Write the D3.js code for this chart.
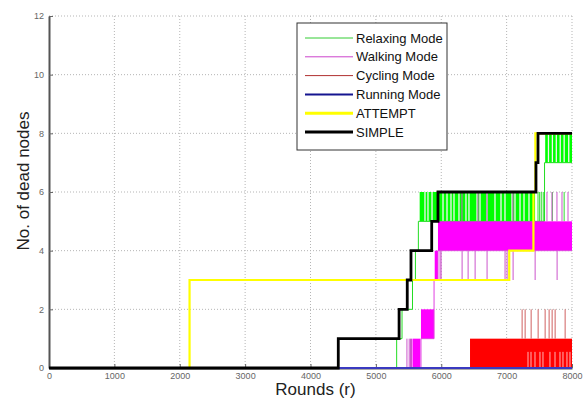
<!DOCTYPE html>
<html>
<head>
<meta charset="utf-8">
<script src="https://cdn.jsdelivr.net/npm/d3@7"></script>
<style>
  body { margin: 0; background: #fff; }
  svg { display: block; font-family: "Liberation Sans", Arial, sans-serif; }
</style>
</head>
<body>
<svg id="chart" width="587" height="399"></svg>
<script>
// axis ticks
const xTicks = [0, 1000, 2000, 3000, 4000, 5000, 6000, 7000, 8000];
const yTicks = [0, 2, 4, 6, 8, 10, 12];

// legend labels, in plot order
const seriesNames = ['Relaxing Mode', 'Walking Mode', 'Cycling Mode', 'Running Mode', 'ATTEMPT', 'SIMPLE'];

// stairs: [round, dead nodes from that round on]
const relaxSteps = [[0, 0], [5318, 1], [5400, 2], [5560, 3], [5605, 4], [5650, 5], [7580, 7], [8000, 7]];
const walkSteps = [[0, 0], [5690, 1], [5890, 3], [5950, 4], [8000, 4]];
const cycleSteps = [[0, 0], [6440, 0], [8000, 0]];
const runSteps = [[0, 0], [8000, 0]];
const attemptSteps = [[0, 0], [2150, 3], [7040, 4], [7410, 6], [7440, 8], [8000, 8]];
const simpleSteps = [[0, 0], [4425, 1], [5355, 2], [5480, 3], [5537, 4], [5854, 5], [5950, 6], [7449, 7], [7480, 8], [8000, 8]];

// dense flicker: [from round, to round, low, high]
const relaxBands = [[5670, 7435, 5, 6], [7590, 8000, 7, 8]];
const walkBands = [[5560, 5680, 0, 1], [5690, 5890, 1, 2], [5900, 5950, 3, 4], [5950, 8000, 4, 5]];
const cycleBands = [[6440, 8000, 0, 1]];

// quiet rounds inside the bands (line stayed low)
const relaxGaps58 = [5751, 5797, 5859, 6027, 6088, 6149, 6195, 6271, 6378, 6424, 6547, 6593, 6700, 6822, 6914, 6975, 7082, 7128, 7205, 7266, 7342];
const relaxGaps78 = [7640, 7700, 7760, 7820, 7880, 7950];
const cycleGaps = [7327, 7373, 7434, 7510, 7556, 7663, 7740, 7816, 7862, 7923, 7969];

// single flicker rounds: [round, low, high]
const relaxSpikes = [[7480, 5, 6], [7505, 5, 6], [7530, 5, 6], [7560, 5, 6], [7700, 5, 6], [7880, 5, 6]];
const walkSpikes = [
  [5475, 0, 1], [5510, 0, 1], [5530, 0, 1], [5545, 0, 1],
  [5982, 3, 4], [5998, 3, 4], [6319, 3, 4], [6411, 3, 4], [6518, 3, 4], [6701, 3, 4],
  [6976, 3, 4], [7007, 3, 4], [7099, 3, 4], [7436, 3, 4], [7772, 3, 4],
  [6317, 5, 6], [6562, 5, 6], [6700, 5, 6], [7097, 5, 6], [7617, 5, 6], [7694, 5, 6],
  [7770, 5, 6], [7847, 5, 6], [7939, 5, 6]
];
const cycleSpikes = [[7237, 1, 2], [7283, 1, 2], [7375, 1, 2], [7482, 1, 2], [7589, 1, 2], [7650, 1, 2], [7696, 1, 2], [7742, 1, 2], [7895, 1, 2]];

const svg = d3.select('#chart');
const x = d3.scaleLinear().domain([0, 8000]).range([49, 572]);
const y = d3.scaleLinear().domain([0, 12]).range([368, 16]);

// grid
svg.append('g').selectAll('line')
  .data(xTicks.slice(1))
  .join('line')
  .attr('x1', d => x(d)).attr('x2', d => x(d))
  .attr('y1', y(0)).attr('y2', y(12))
  .attr('stroke', '#b5b5b5').attr('stroke-dasharray', '1,2');

svg.append('g').selectAll('line')
  .data(yTicks.slice(1))
  .join('line')
  .attr('x1', x(0)).attr('x2', x(8000))
  .attr('y1', d => y(d)).attr('y2', d => y(d))
  .attr('stroke', '#b5b5b5').attr('stroke-dasharray', '1,2');

// axes
const xAxis = svg.append('g')
  .attr('transform', `translate(0,${y(0)})`)
  .call(d3.axisBottom(x).tickValues(xTicks).tickFormat(d3.format('d'))
    .tickSizeInner(-4).tickSizeOuter(0).tickPadding(5));
const yAxis = svg.append('g')
  .attr('transform', `translate(${x(0)},0)`)
  .call(d3.axisLeft(y).tickValues(yTicks).tickFormat(d3.format('d'))
    .tickSizeInner(-4).tickSizeOuter(0).tickPadding(5));

[xAxis, yAxis].forEach(g => {
  g.select('.domain').attr('stroke', '#555').attr('stroke-width', 2);
  g.selectAll('.tick line').attr('stroke', '#666');
  g.selectAll('.tick text').attr('fill', '#666').attr('font-size', 9)
    .attr('font-family', '"Liberation Sans", Arial, sans-serif');
});

const stairs = d3.line()
  .x(d => x(d[0]))
  .y(d => y(d[1]))
  .curve(d3.curveStepAfter);

const plot = svg.append('g');

function drawBands(bands, color) {
  plot.append('g').selectAll('rect')
    .data(bands)
    .join('rect')
    .attr('x', d => x(d[0]))
    .attr('width', d => x(d[1]) - x(d[0]))
    .attr('y', d => y(d[3]))
    .attr('height', d => y(d[2]) - y(d[3]))
    .attr('fill', color);
}

function drawTicks(rounds, lo, hi, color, width) {
  plot.append('g').selectAll('line')
    .data(rounds)
    .join('line')
    .attr('x1', d => x(d)).attr('x2', d => x(d))
    .attr('y1', y(lo)).attr('y2', y(hi))
    .attr('stroke', color).attr('stroke-width', width);
}

function drawSpikes(spikes, color) {
  plot.append('g').selectAll('line')
    .data(spikes)
    .join('line')
    .attr('x1', d => x(d[0])).attr('x2', d => x(d[0]))
    .attr('y1', d => y(d[1])).attr('y2', d => y(d[2]))
    .attr('stroke', color).attr('stroke-width', 1);
}

function drawStairs(steps, color, width) {
  plot.append('path')
    .datum(steps)
    .attr('d', stairs)
    .attr('fill', 'none')
    .attr('stroke', color)
    .attr('stroke-width', width);
}

// Relaxing
drawBands(relaxBands, '#00ff00');
drawTicks(relaxGaps58, 5, 6, '#f4f4f4', 1.3);
drawTicks(relaxGaps78, 7, 8, '#f4f4f4', 1.3);
drawStairs(relaxSteps, '#22dd22', 1);
drawSpikes(relaxSpikes, '#33dd33');

// Walking
drawBands(walkBands, '#ff00ff');
drawStairs(walkSteps, '#e040e0', 1);
drawSpikes(walkSpikes, '#cc55cc');

// Cycling
drawBands(cycleBands, '#ff0000');
drawTicks(cycleGaps, 0, 0.55, '#ffb4b4', 1);
drawStairs(cycleSteps, '#ee2222', 1);
drawSpikes(cycleSpikes, '#d06060');

// Running
drawStairs(runSteps, '#3a3ac0', 2);

// ATTEMPT
drawStairs(attemptSteps, '#ffff00', 2.2);

// SIMPLE
drawStairs(simpleSteps, '#000', 2.8);

// titles
svg.append('text')
  .attr('x', x(4000) + 5).attr('y', 395)
  .attr('text-anchor', 'middle')
  .attr('font-size', 17).attr('fill', '#222')
  .text('Rounds (r)');

svg.append('text')
  .attr('transform', 'translate(29,181) rotate(-90)')
  .attr('text-anchor', 'middle')
  .attr('font-size', 17).attr('fill', '#222')
  .text('No. of dead nodes');

// legend
const legendColors = ['#33cc33', '#cc44cc', '#b03030', '#151590', '#ffff00', '#000'];
const legendWidths = [1, 1, 1, 2, 3, 3];
const legend = svg.append('g');
legend.append('rect')
  .attr('x', 297).attr('y', 23).attr('width', 150).attr('height', 127)
  .attr('fill', '#fff').attr('stroke', '#333').attr('stroke-width', 1);

const rowY = d3.scalePoint().domain(seriesNames).range([38, 132]);
const items = legend.selectAll('g.item')
  .data(seriesNames)
  .join('g')
  .attr('class', 'item')
  .attr('transform', d => `translate(0,${rowY(d)})`);

items.append('line')
  .attr('x1', 305).attr('x2', 353)
  .attr('stroke', (d, i) => legendColors[i])
  .attr('stroke-width', (d, i) => legendWidths[i]);

items.append('text')
  .attr('x', 356).attr('dy', '0.36em')
  .attr('font-size', 13).attr('fill', '#111')
  .text(d => d);
</script>
</body>
</html>
